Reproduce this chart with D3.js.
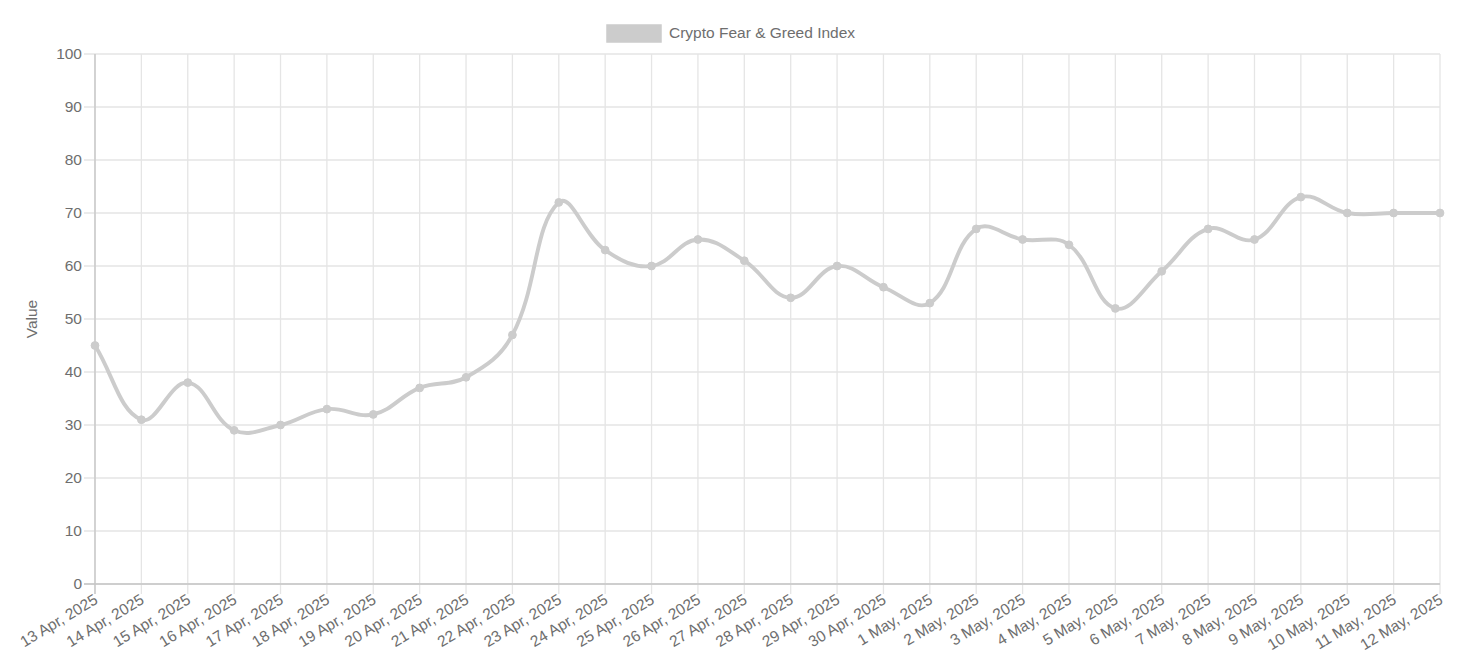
<!DOCTYPE html>
<html>
<head>
<meta charset="utf-8">
<script src="https://cdn.jsdelivr.net/npm/d3@7"></script>
<style>
  html, body { margin: 0; padding: 0; background: #fff; }
  svg { display: block; font-family: "Liberation Sans", Arial, Helvetica, sans-serif; }
</style>
</head>
<body>
<svg id="chart" width="1466" height="669"></svg>
<script>
const labels = ["13 Apr, 2025","14 Apr, 2025","15 Apr, 2025","16 Apr, 2025","17 Apr, 2025","18 Apr, 2025","19 Apr, 2025","20 Apr, 2025","21 Apr, 2025","22 Apr, 2025","23 Apr, 2025","24 Apr, 2025","25 Apr, 2025","26 Apr, 2025","27 Apr, 2025","28 Apr, 2025","29 Apr, 2025","30 Apr, 2025","1 May, 2025","2 May, 2025","3 May, 2025","4 May, 2025","5 May, 2025","6 May, 2025","7 May, 2025","8 May, 2025","9 May, 2025","10 May, 2025","11 May, 2025","12 May, 2025"];
const values = [45,31,38,29,30,33,32,37,39,47,72,63,60,65,61,54,60,56,53,67,65,64,52,59,67,65,73,70,70,70];
const yTicks = [0,10,20,30,40,50,60,70,80,90,100];
const seriesName = "Crypto Fear & Greed Index";
const yTitle = "Value";

const svg = d3.select("#chart");
const area = {left: 95, right: 1440, top: 54, bottom: 584};
const fontSize = 15.5;
const textColor = "#6e6e6e";
const gridColor = "#e5e5e5";
const axisColor = "#c4c4c4";
const lineColor = "#cccccc";

const x = d3.scalePoint().domain(labels).range([area.left, area.right]);
const y = d3.scaleLinear().domain([0, 100]).range([area.bottom, area.top]);

// grid lines
const g = svg.append("g");
g.selectAll("line.vg").data(labels).enter().append("line")
  .attr("x1", d => x(d)).attr("x2", d => x(d))
  .attr("y1", area.top).attr("y2", area.bottom + 10)
  .attr("stroke", gridColor).attr("stroke-width", 1.3);
g.selectAll("line.hg").data(yTicks).enter().append("line")
  .attr("x1", area.left - 11).attr("x2", area.right)
  .attr("y1", d => y(d)).attr("y2", d => y(d))
  .attr("stroke", gridColor).attr("stroke-width", 1.3);

// axis lines
g.append("line").attr("x1", area.left).attr("x2", area.left)
  .attr("y1", area.top).attr("y2", area.bottom + 10)
  .attr("stroke", axisColor).attr("stroke-width", 1.3);
g.append("line").attr("x1", area.left - 11).attr("x2", area.right)
  .attr("y1", area.bottom).attr("y2", area.bottom)
  .attr("stroke", axisColor).attr("stroke-width", 1.3);

// y tick labels
svg.append("g").selectAll("text").data(yTicks).enter().append("text")
  .attr("x", area.left - 13).attr("y", d => y(d))
  .attr("dy", "0.35em")
  .attr("text-anchor", "end")
  .attr("font-size", fontSize).attr("fill", textColor)
  .text(d => d);

// x tick labels rotated
svg.append("g").selectAll("text").data(labels).enter().append("text")
  .attr("transform", d => `translate(${x(d) + 1},${area.bottom + 14}) rotate(-31)`)
  .attr("dy", "0.35em")
  .attr("text-anchor", "end")
  .attr("font-size", fontSize).attr("fill", textColor)
  .text(d => d);

// y axis title
svg.append("text")
  .attr("transform", `translate(32,${(area.top + area.bottom) / 2}) rotate(-90)`)
  .attr("dy", "0.35em")
  .attr("text-anchor", "middle")
  .attr("font-size", fontSize).attr("fill", textColor)
  .text(yTitle);

// legend
const lg = svg.append("g");
lg.append("rect").attr("x", 607).attr("y", 25).attr("width", 54).attr("height", 17)
  .attr("fill", lineColor).attr("stroke", lineColor).attr("stroke-width", 1.5);
lg.append("text").attr("x", 669).attr("y", 32.5).attr("dy", "0.35em")
  .attr("font-size", fontSize).attr("fill", textColor).text(seriesName);

// Chart.js style spline (tension 0.4)
const pts = values.map((v, i) => ({x: x(labels[i]), y: y(v)}));
const tension = 0.4;
pts.forEach((p, i) => {
  const prev = pts[i - 1] || p, next = pts[i + 1] || p;
  const d01 = Math.hypot(p.x - prev.x, p.y - prev.y);
  const d12 = Math.hypot(next.x - p.x, next.y - p.y);
  let s01 = d01 / (d01 + d12), s12 = d12 / (d01 + d12);
  if (isNaN(s01)) s01 = 0; if (isNaN(s12)) s12 = 0;
  const fa = tension * s01, fb = tension * s12;
  const clampX = v => Math.max(area.left, Math.min(area.right, v));
  const clampY = v => Math.max(area.top, Math.min(area.bottom, v));
  p.cpPrev = {x: clampX(p.x - fa * (next.x - prev.x)), y: clampY(p.y - fa * (next.y - prev.y))};
  p.cpNext = {x: clampX(p.x + fb * (next.x - prev.x)), y: clampY(p.y + fb * (next.y - prev.y))};
});
const path = d3.path();
path.moveTo(pts[0].x, pts[0].y);
for (let i = 1; i < pts.length; i++) {
  const a = pts[i - 1], b = pts[i];
  path.bezierCurveTo(a.cpNext.x, a.cpNext.y, b.cpPrev.x, b.cpPrev.y, b.x, b.y);
}
svg.append("path").attr("d", path.toString())
  .attr("fill", "none").attr("stroke", lineColor).attr("stroke-width", 3.9)
  .attr("stroke-linejoin", "round");

svg.append("g").selectAll("circle").data(pts).enter().append("circle")
  .attr("cx", d => d.x).attr("cy", d => d.y).attr("r", 3.9)
  .attr("fill", lineColor).attr("stroke", lineColor).attr("stroke-width", 1);
</script>
</body>
</html>
